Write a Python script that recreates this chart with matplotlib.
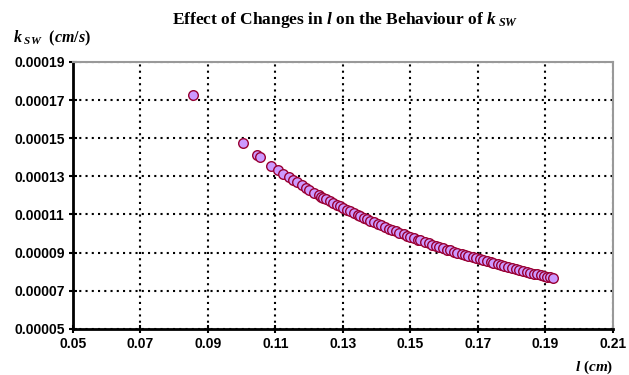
import matplotlib
matplotlib.use("Agg")
import matplotlib.pyplot as plt
from matplotlib.ticker import FuncFormatter

# l (cm) and k_sw (in units of 1e-5 cm/s)
l_cm = [0.0856, 0.1004, 0.1047, 0.1055, 0.1087, 0.1107, 0.1124, 0.1140, 0.1152,
        0.1163, 0.1178, 0.1190, 0.1201, 0.1214, 0.1228, 0.1236, 0.1242, 0.1250,
        0.1262, 0.1270, 0.1283, 0.1291, 0.1300, 0.1312, 0.1320, 0.1333, 0.1345,
        0.1352, 0.1364, 0.1372, 0.1381, 0.1393, 0.1405, 0.1412, 0.1426, 0.1438,
        0.1446, 0.1458, 0.1467, 0.1480, 0.1491, 0.1500, 0.1510, 0.1523, 0.1530,
        0.1544, 0.1556, 0.1565, 0.1577, 0.1585, 0.1598, 0.1610, 0.1618, 0.1631,
        0.1640, 0.1652, 0.1661, 0.1672, 0.1685, 0.1694, 0.1706, 0.1715, 0.1727,
        0.1738, 0.1746, 0.1759, 0.1770, 0.1779, 0.1790, 0.1801, 0.1812, 0.1822,
        0.1834, 0.1845, 0.1856, 0.1866, 0.1877, 0.1888, 0.1897, 0.1906, 0.1914,
        0.1923]
k_sw_e5 = [17.27, 14.73, 14.12, 14.00, 13.56, 13.33, 13.14, 12.94, 12.80,
           12.68, 12.52, 12.39, 12.28, 12.15, 12.01, 11.93, 11.88, 11.80,
           11.69, 11.61, 11.50, 11.43, 11.35, 11.24, 11.17, 11.07, 10.97,
           10.91, 10.81, 10.75, 10.68, 10.59, 10.50, 10.45, 10.34, 10.26,
           10.20, 10.12, 10.05, 9.97, 9.89, 9.83, 9.77, 9.68, 9.64,
           9.55, 9.48, 9.42, 9.35, 9.31, 9.23, 9.16, 9.12, 9.04,
           8.99, 8.93, 8.88, 8.82, 8.75, 8.71, 8.65, 8.60, 8.54,
           8.49, 8.45, 8.39, 8.33, 8.29, 8.24, 8.19, 8.14, 8.10,
           8.04, 7.99, 7.95, 7.90, 7.86, 7.81, 7.78, 7.74, 7.71,
           7.67]
k_sw = [v * 1e-5 for v in k_sw_e5]

x_ticks = [0.05, 0.07, 0.09, 0.11, 0.13, 0.15, 0.17, 0.19, 0.21]
y_ticks = [0.00005, 0.00007, 0.00009, 0.00011, 0.00013, 0.00015, 0.00017, 0.00019]

plt.rcParams['font.family'] = 'Liberation Sans'
plt.rcParams['mathtext.fontset'] = 'custom'
plt.rcParams['mathtext.it'] = 'Liberation Serif:italic:bold'
plt.rcParams['mathtext.rm'] = 'Liberation Serif:bold'

fig = plt.figure(figsize=(6.29, 3.75), dpi=100)
ax = fig.add_axes([0.116, 0.123, 0.858, 0.712])

ax.scatter(l_cm, k_sw, s=48, facecolor='#cc99ff', edgecolor='#990033',
           linewidth=1.0, zorder=3, clip_on=False)

ax.set_xlim(0.05, 0.21)
ax.set_ylim(0.00005, 0.00019)
ax.set_xticks(x_ticks)
ax.set_yticks(y_ticks)
ax.xaxis.set_major_formatter(FuncFormatter(lambda v, p: '%.2f' % v))
ax.yaxis.set_major_formatter(FuncFormatter(lambda v, p: '%.5f' % v))
for lab in ax.get_xticklabels() + ax.get_yticklabels():
    lab.set_fontweight('bold')
    lab.set_fontsize(10)

ax.tick_params(direction='inout', length=6, width=1.5, pad=3)
ax.grid(True, color='black', linestyle=(0, (1, 2)), linewidth=1.5)

ax.spines['left'].set_linewidth(2)
ax.spines['bottom'].set_linewidth(2)
ax.spines['top'].set_color('#999999')
ax.spines['right'].set_color('#999999')
ax.spines['top'].set_linewidth(1.5)
ax.spines['right'].set_linewidth(1.5)

fig.text(0.548, 0.947, r'Effect of Changes in $l$ on the Behaviour of $k_{\ SW}$',
         ha='center', va='center', fontsize=12.5, family='Liberation Serif',
         fontweight='bold')
fig.text(0.02, 0.898, r'$k_{\ SW}\ \ (cm/s)$', ha='left', va='center', fontsize=11.5)
fig.text(0.975, 0.02, r'$l\ (cm)$', ha='right', va='center', fontsize=11)

fig.savefig('out.png', dpi=100)
